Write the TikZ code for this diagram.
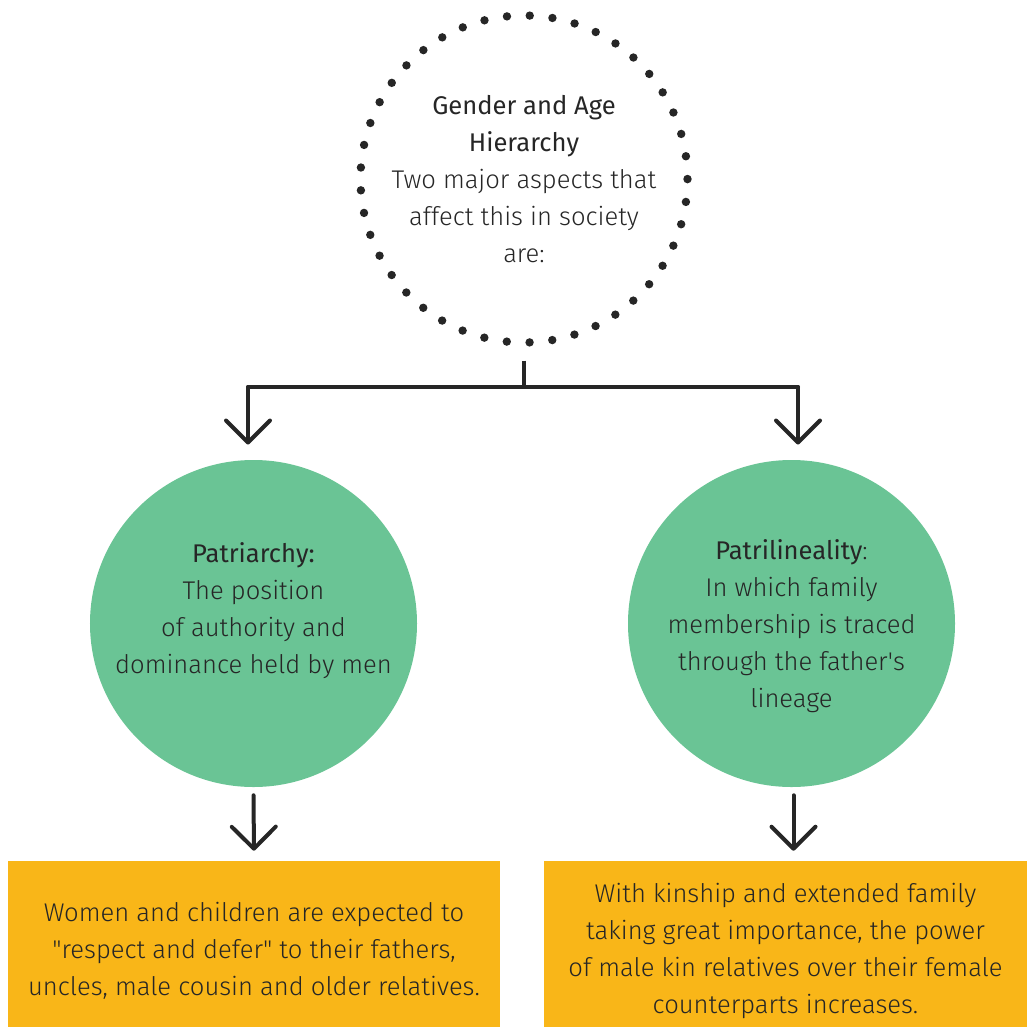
\documentclass[tikz,border=0pt]{standalone}
\usepackage{fontspec}
\setmainfont{Fira Sans Light}[BoldFont={Fira Sans}]
\usetikzlibrary{arrows.meta,positioning}
\definecolor{inkx}{HTML}{262626}
\definecolor{greenx}{HTML}{6AC495}
\definecolor{amberx}{HTML}{F9B618}
\tikzset{
  ar/.style={-{Straight Barb[length=5.5mm,width=11mm,round]},line width=1mm,line cap=round,inkx},
  txt/.style={align=center,text=inkx,font=\fontsize{18.2}{26.3}\selectfont,inner sep=0pt},
  dotring/.style={circle,minimum size=81.75mm,inner sep=0pt,draw=inkx,line width=2.1mm,line cap=round,dash pattern=on 0pt off 5.707mm,txt},
  ball/.style={circle,minimum size=81.75mm,inner sep=0pt,fill=greenx},
  box/.style={rectangle,minimum height=41.5mm,inner sep=0pt,fill=amberx}
}
\begin{document}
\begin{tikzpicture}[x=0.25mm,y=-0.25mm]
\useasboundingbox (0,0) rectangle (1027,1027);
\node[dotring] (top) at (524,179) {\textbf{Gender and Age}\\\textbf{Hierarchy}\\Two major aspects that\\affect this in society\\are:};
\node[ball] (patri) at (253.5,623.5) {};
\node[ball] (lineal) at (791.5,623.5) {};
\node[txt] (patritxt) at ([yshift=3.3mm]patri.center) {\textbf{Patriarchy:}\\The position\\of authority and\\dominance held by men};
\node[txt] (linealtxt) at ([yshift=-0.7mm]lineal.center) {\textbf{Patrilineality}:\\In which family\\membership is traced\\through the father\textquotesingle s\\lineage};
\node[box,minimum width=123mm] (respect) at (254,944) {};
\node[box,minimum width=120.75mm] (kin) at (785.5,944) {};
\node[txt] (respecttxt) at ([yshift=-1.6mm]respect.center) {Women and children are expected to\\\textquotedbl respect and defer\textquotedbl{} to their fathers,\\uncles, male cousin and older relatives.};
\node[txt] (kintxt) at ([yshift=-1.7mm]kin.center) {With kinship and extended family\\taking great importance, the power\\of male kin relatives over their female\\counterparts increases.};
\coordinate (fork) at (524,387);
\coordinate (forkL) at (248,387);
\coordinate (forkR) at (798,387);
\draw[line width=1mm,inkx,shorten <=3.5mm] (top.south) -- (fork);
\draw[line width=1mm,inkx,line cap=round] (forkL) -- (forkR);
\draw[ar,shorten >=3.8mm] (forkL) -- (forkL |- patri.north);
\draw[ar,shorten >=3.8mm] (forkR) -- (forkR |- lineal.north);
\draw[ar,shorten <=2mm,shorten >=2.5mm] (patri.south) -- (respect.north);
\draw[ar,shorten <=2mm,shorten >=2.5mm] ([xshift=0.5mm]lineal.south) -- ([xshift=0.5mm]lineal.south |- kin.north);
\end{tikzpicture}
\end{document}
